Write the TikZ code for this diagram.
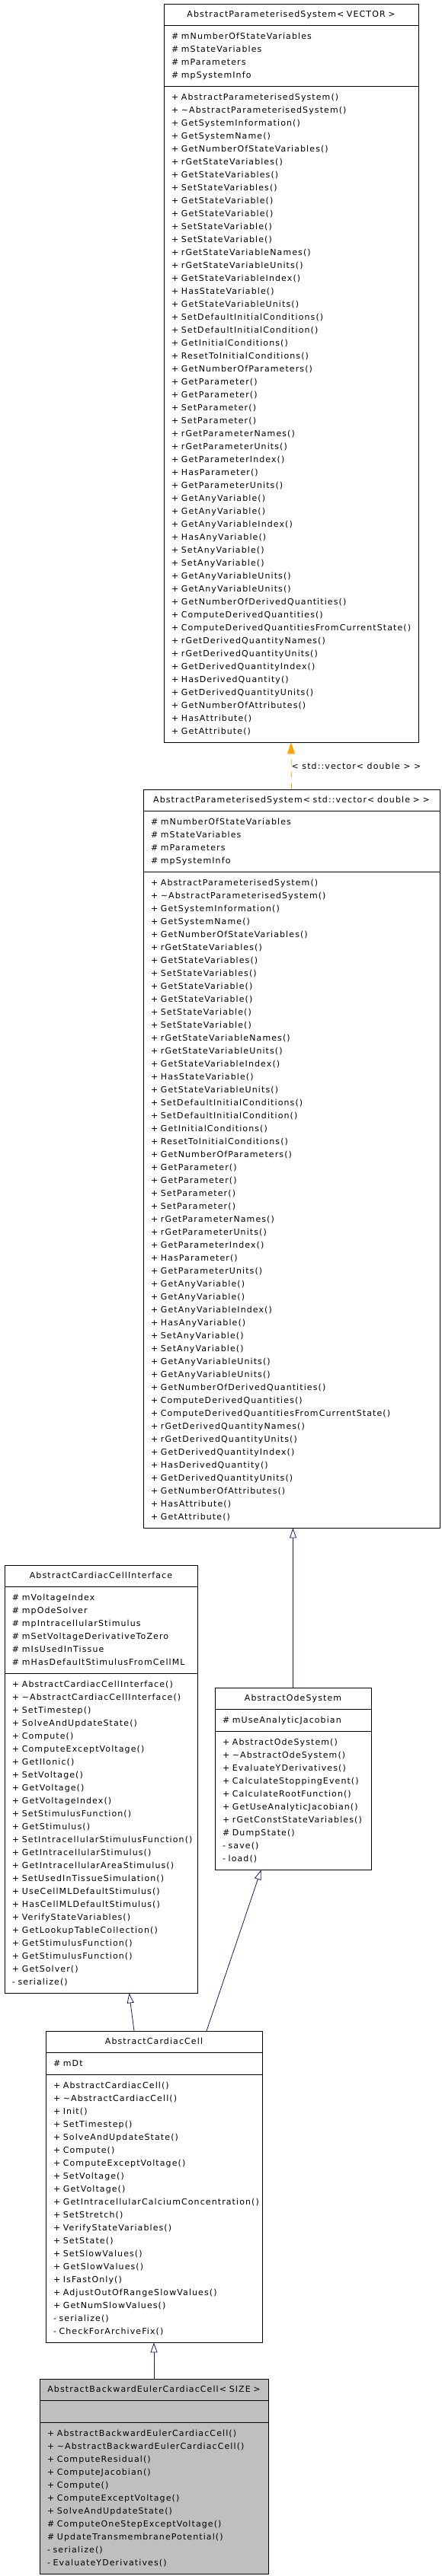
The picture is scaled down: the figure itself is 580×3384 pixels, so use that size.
\documentclass[tikz,border=0pt]{standalone}
\usepackage{fontspec}
\usetikzlibrary{shapes.multipart,arrows.meta}
\newfontfamily\dxfont[LetterSpace=10]{DejaVu Sans}
\definecolor{dxblue}{RGB}{25,25,112}
\definecolor{dxorange}{RGB}{255,165,0}
\definecolor{dxgray}{RGB}{191,191,191}
\newcommand{\ctitle}[1]{\noindent\centering\strut\mbox{#1}\par}
\newcommand{\mrow}[1]{\raggedright\noindent\strut\mbox{#1}\par}
\begin{document}
\begin{tikzpicture}[x=1pt,y=1pt,
	cls/.style={rectangle split,rectangle split parts=3,draw,line width=0.8pt,
		inner xsep=10pt,inner ysep=5.5pt,outer sep=0pt,anchor=north west,
		font=\dxfont\fontsize{11}{17}\selectfont},
	lbl/.style={inner sep=0pt,font=\dxfont\fontsize{11}{17}\selectfont},
	inh/.style={draw=dxblue,line width=0.8pt,-{Triangle[open,length=13pt,width=9pt]}},
	tmpl/.style={draw=dxorange,line width=0.8pt,dash pattern=on 8pt off 8pt,
		-{Triangle[length=15pt,width=10pt]}}]
	\useasboundingbox (0,0) rectangle (580,-3384);
	% template base
	\draw (215,-5) node (apsv) [cls,text width=314pt] {\ctitle{AbstractParameterisedSystem< VECTOR >}
		\nodepart{two}
		\mrow{\# mNumberOfStateVariables}
		\mrow{\# mStateVariables}
		\mrow{\# mParameters}
		\mrow{\# mpSystemInfo}
		\nodepart{three}
		\mrow{+ AbstractParameterisedSystem()}
		\mrow{+ \textasciitilde AbstractParameterisedSystem()}
		\mrow{+ GetSystemInformation()}
		\mrow{+ GetSystemName()}
		\mrow{+ GetNumberOfStateVariables()}
		\mrow{+ rGetStateVariables()}
		\mrow{+ GetStateVariables()}
		\mrow{+ SetStateVariables()}
		\mrow{+ GetStateVariable()}
		\mrow{+ GetStateVariable()}
		\mrow{+ SetStateVariable()}
		\mrow{+ SetStateVariable()}
		\mrow{+ rGetStateVariableNames()}
		\mrow{+ rGetStateVariableUnits()}
		\mrow{+ GetStateVariableIndex()}
		\mrow{+ HasStateVariable()}
		\mrow{+ GetStateVariableUnits()}
		\mrow{+ SetDefaultInitialConditions()}
		\mrow{+ SetDefaultInitialCondition()}
		\mrow{+ GetInitialConditions()}
		\mrow{+ ResetToInitialConditions()}
		\mrow{+ GetNumberOfParameters()}
		\mrow{+ GetParameter()}
		\mrow{+ GetParameter()}
		\mrow{+ SetParameter()}
		\mrow{+ SetParameter()}
		\mrow{+ rGetParameterNames()}
		\mrow{+ rGetParameterUnits()}
		\mrow{+ GetParameterIndex()}
		\mrow{+ HasParameter()}
		\mrow{+ GetParameterUnits()}
		\mrow{+ GetAnyVariable()}
		\mrow{+ GetAnyVariable()}
		\mrow{+ GetAnyVariableIndex()}
		\mrow{+ HasAnyVariable()}
		\mrow{+ SetAnyVariable()}
		\mrow{+ SetAnyVariable()}
		\mrow{+ GetAnyVariableUnits()}
		\mrow{+ GetAnyVariableUnits()}
		\mrow{+ GetNumberOfDerivedQuantities()}
		\mrow{+ ComputeDerivedQuantities()}
		\mrow{+ ComputeDerivedQuantitiesFromCurrentState()}
		\mrow{+ rGetDerivedQuantityNames()}
		\mrow{+ rGetDerivedQuantityUnits()}
		\mrow{+ GetDerivedQuantityIndex()}
		\mrow{+ HasDerivedQuantity()}
		\mrow{+ GetDerivedQuantityUnits()}
		\mrow{+ GetNumberOfAttributes()}
		\mrow{+ HasAttribute()}
		\mrow{+ GetAttribute()}};
	% instantiation
	\draw (188,-1037) node (apsd) [cls,text width=369pt] {\ctitle{AbstractParameterisedSystem< std::vector< double > >}
		\nodepart{two}
		\mrow{\# mNumberOfStateVariables}
		\mrow{\# mStateVariables}
		\mrow{\# mParameters}
		\mrow{\# mpSystemInfo}
		\nodepart{three}
		\mrow{+ AbstractParameterisedSystem()}
		\mrow{+ \textasciitilde AbstractParameterisedSystem()}
		\mrow{+ GetSystemInformation()}
		\mrow{+ GetSystemName()}
		\mrow{+ GetNumberOfStateVariables()}
		\mrow{+ rGetStateVariables()}
		\mrow{+ GetStateVariables()}
		\mrow{+ SetStateVariables()}
		\mrow{+ GetStateVariable()}
		\mrow{+ GetStateVariable()}
		\mrow{+ SetStateVariable()}
		\mrow{+ SetStateVariable()}
		\mrow{+ rGetStateVariableNames()}
		\mrow{+ rGetStateVariableUnits()}
		\mrow{+ GetStateVariableIndex()}
		\mrow{+ HasStateVariable()}
		\mrow{+ GetStateVariableUnits()}
		\mrow{+ SetDefaultInitialConditions()}
		\mrow{+ SetDefaultInitialCondition()}
		\mrow{+ GetInitialConditions()}
		\mrow{+ ResetToInitialConditions()}
		\mrow{+ GetNumberOfParameters()}
		\mrow{+ GetParameter()}
		\mrow{+ GetParameter()}
		\mrow{+ SetParameter()}
		\mrow{+ SetParameter()}
		\mrow{+ rGetParameterNames()}
		\mrow{+ rGetParameterUnits()}
		\mrow{+ GetParameterIndex()}
		\mrow{+ HasParameter()}
		\mrow{+ GetParameterUnits()}
		\mrow{+ GetAnyVariable()}
		\mrow{+ GetAnyVariable()}
		\mrow{+ GetAnyVariableIndex()}
		\mrow{+ HasAnyVariable()}
		\mrow{+ SetAnyVariable()}
		\mrow{+ SetAnyVariable()}
		\mrow{+ GetAnyVariableUnits()}
		\mrow{+ GetAnyVariableUnits()}
		\mrow{+ GetNumberOfDerivedQuantities()}
		\mrow{+ ComputeDerivedQuantities()}
		\mrow{+ ComputeDerivedQuantitiesFromCurrentState()}
		\mrow{+ rGetDerivedQuantityNames()}
		\mrow{+ rGetDerivedQuantityUnits()}
		\mrow{+ GetDerivedQuantityIndex()}
		\mrow{+ HasDerivedQuantity()}
		\mrow{+ GetDerivedQuantityUnits()}
		\mrow{+ GetNumberOfAttributes()}
		\mrow{+ HasAttribute()}
		\mrow{+ GetAttribute()}};
	\draw (6,-2056) node (iface) [cls,text width=233pt] {\ctitle{AbstractCardiacCellInterface}
		\nodepart{two}
		\mrow{\# mVoltageIndex}
		\mrow{\# mpOdeSolver}
		\mrow{\# mpIntracellularStimulus}
		\mrow{\# mSetVoltageDerivativeToZero}
		\mrow{\# mIsUsedInTissue}
		\mrow{\# mHasDefaultStimulusFromCellML}
		\nodepart{three}
		\mrow{+ AbstractCardiacCellInterface()}
		\mrow{+ \textasciitilde AbstractCardiacCellInterface()}
		\mrow{+ SetTimestep()}
		\mrow{+ SolveAndUpdateState()}
		\mrow{+ Compute()}
		\mrow{+ ComputeExceptVoltage()}
		\mrow{+ GetIIonic()}
		\mrow{+ SetVoltage()}
		\mrow{+ GetVoltage()}
		\mrow{+ GetVoltageIndex()}
		\mrow{+ SetStimulusFunction()}
		\mrow{+ GetStimulus()}
		\mrow{+ SetIntracellularStimulusFunction()}
		\mrow{+ GetIntracellularStimulus()}
		\mrow{+ GetIntracellularAreaStimulus()}
		\mrow{+ SetUsedInTissueSimulation()}
		\mrow{+ UseCellMLDefaultStimulus()}
		\mrow{+ HasCellMLDefaultStimulus()}
		\mrow{+ VerifyStateVariables()}
		\mrow{+ GetLookupTableCollection()}
		\mrow{+ GetStimulusFunction()}
		\mrow{+ GetStimulusFunction()}
		\mrow{+ GetSolver()}
		\mrow{- serialize()}};
	\draw (282,-2217) node (ode) [cls,text width=185pt] {\ctitle{AbstractOdeSystem}
		\nodepart{two}
		\mrow{\# mUseAnalyticJacobian}
		\nodepart{three}
		\mrow{+ AbstractOdeSystem()}
		\mrow{+ \textasciitilde AbstractOdeSystem()}
		\mrow{+ EvaluateYDerivatives()}
		\mrow{+ CalculateStoppingEvent()}
		\mrow{+ CalculateRootFunction()}
		\mrow{+ GetUseAnalyticJacobian()}
		\mrow{+ rGetConstStateVariables()}
		\mrow{\# DumpState()}
		\mrow{- save()}
		\mrow{- load()}};
	\draw (60,-2668) node (cell) [cls,text width=264pt] {\ctitle{AbstractCardiacCell}
		\nodepart{two}
		\mrow{\# mDt}
		\nodepart{three}
		\mrow{+ AbstractCardiacCell()}
		\mrow{+ \textasciitilde AbstractCardiacCell()}
		\mrow{+ Init()}
		\mrow{+ SetTimestep()}
		\mrow{+ SolveAndUpdateState()}
		\mrow{+ Compute()}
		\mrow{+ ComputeExceptVoltage()}
		\mrow{+ SetVoltage()}
		\mrow{+ GetVoltage()}
		\mrow{+ GetIntracellularCalciumConcentration()}
		\mrow{+ SetStretch()}
		\mrow{+ VerifyStateVariables()}
		\mrow{+ SetState()}
		\mrow{+ SetSlowValues()}
		\mrow{+ GetSlowValues()}
		\mrow{+ IsFastOnly()}
		\mrow{+ AdjustOutOfRangeSlowValues()}
		\mrow{+ GetNumSlowValues()}
		\mrow{- serialize()}
		\mrow{- CheckForArchiveFix()}};
	% the documented class
	\draw (52,-3125) node (abe) [cls,fill=dxgray,text width=280pt] {\ctitle{AbstractBackwardEulerCardiacCell< SIZE >}
		\nodepart{two}
		\mrow{}
		\nodepart{three}
		\mrow{+ AbstractBackwardEulerCardiacCell()}
		\mrow{+ \textasciitilde AbstractBackwardEulerCardiacCell()}
		\mrow{+ ComputeResidual()}
		\mrow{+ ComputeJacobian()}
		\mrow{+ Compute()}
		\mrow{+ ComputeExceptVoltage()}
		\mrow{+ SolveAndUpdateState()}
		\mrow{\# ComputeOneStepExceptVoltage()}
		\mrow{\# UpdateTransmembranePotential()}
		\mrow{- serialize()}
		\mrow{- EvaluateYDerivatives()}};
	% links
	\draw[tmpl] (apsd.north) -- node [right,lbl] {< std::vector< double > >} (apsv.south);
	\draw[inh] (ode.north) -- (ode.north |- apsd.south);
	\draw[inh] ([xshift=-26pt]cell.north) -- ([xshift=37pt]iface.south);
	\draw[inh] ([xshift=69pt]cell.north) -- ([xshift=-42pt]ode.south);
	\draw[inh] (abe.north) -- (cell.south);
\end{tikzpicture}
\end{document}
